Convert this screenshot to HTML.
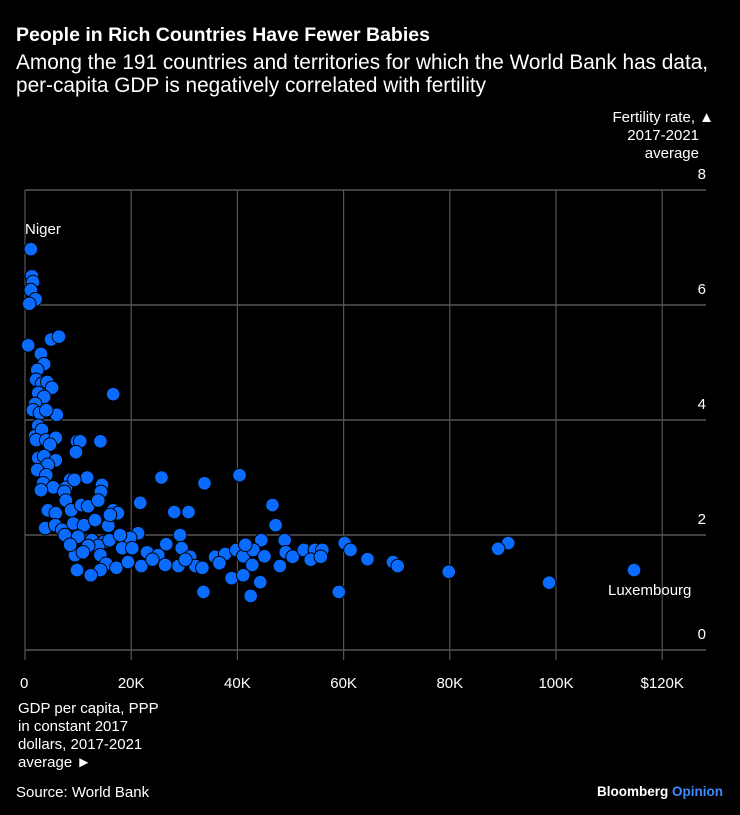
<!DOCTYPE html>
<html><head><meta charset="utf-8"><style>
body{margin:0;background:#000;width:740px;height:815px;overflow:hidden;font-family:"Liberation Sans",sans-serif;color:#fff}
</style></head><body>
<svg width="740" height="815" style="position:absolute;left:0;top:0">
<text x="16" y="41" font-size="19.5" font-weight="bold" fill="#fff">People in Rich Countries Have Fewer Babies</text>
<text x="16" y="69" font-size="20.8" fill="#fff">Among the 191 countries and territories for which the World Bank has data,</text>
<text x="16" y="92" font-size="20.8" fill="#fff">per-capita GDP is negatively correlated with fertility</text>
<g font-size="15" fill="#fff" text-anchor="end">
<text x="714" y="122">Fertility rate, ▲</text><text x="699" y="140">2017-2021</text><text x="699" y="158">average</text></g>
<g id="grid"></g><g id="dots"></g>
<text x="25" y="234" font-size="15" fill="#fff">Niger</text>
<text x="608" y="595" font-size="15" fill="#fff">Luxembourg</text>
<g font-size="15" fill="#fff">
<text x="18" y="713">GDP per capita, PPP</text><text x="18" y="731">in constant 2017</text><text x="18" y="749">dollars, 2017-2021</text><text x="18" y="767">average ►</text></g>
<text x="16" y="797" font-size="15" fill="#fff">Source: World Bank</text>
<text x="723" y="796" font-size="13.5" font-weight="bold" text-anchor="end"><tspan fill="#fff">Bloomberg </tspan><tspan fill="#3d8bff">Opinion</tspan></text>
</svg>
<script>
const xTicks=[0,20,40,60,80,100,120];
const xTickLabels=["0","20K","40K","60K","80K","100K","$120K"];
const yTicks=[0,2,4,6,8];
const gdp=[1.1,1.3,1.5,1.1,2.0,0.8,0.6,3.0,4.9,6.4,3.6,2.3,2.1,3.2,4.2,5.1,2.5,3.6,1.9,1.5,2.8,6.0,4.0,2.5,1.9,3.2,16.6,2.1,4.0,5.8,4.7,9.8,10.4,14.2,2.5,3.6,5.8,4.3,2.3,4.0,9.6,11.7,14.5,14.3,25.7,40.4,33.8,3.4,8.5,7.7,5.3,3.0,7.4,9.3,7.7,8.7,10.6,11.9,13.8,21.7,46.6,28.1,30.8,16.6,17.5,4.3,5.8,3.8,5.7,7.0,9.1,11.1,13.2,15.7,47.2,21.3,29.2,7.5,10.0,12.6,14.9,13.8,11.9,19.8,44.5,48.9,60.2,91.0,89.1,61.3,9.4,10.9,14.2,18.3,20.2,23.0,25.1,26.6,29.5,31.1,35.8,37.7,39.8,41.1,43.0,45.1,49.1,50.4,52.5,54.6,56.0,53.8,55.7,64.5,69.3,70.2,79.8,98.7,114.7,15.3,17.2,19.4,21.9,24.0,28.9,32.1,33.4,36.6,38.9,41.1,42.8,44.3,48.0,14.2,12.4,9.8,33.6,42.5,59.1,15.9,8.5,17.9,26.4,30.2,41.5,16.0];
const fert=[6.97,6.5,6.4,6.26,6.1,6.02,5.3,5.15,5.4,5.45,4.97,4.87,4.7,4.63,4.66,4.56,4.47,4.4,4.28,4.17,4.12,4.09,4.17,3.9,3.72,3.83,4.45,3.65,3.65,3.69,3.57,3.63,3.63,3.63,3.34,3.37,3.3,3.22,3.13,3.04,3.44,3.0,2.87,2.75,3.0,3.04,2.9,2.9,2.96,2.82,2.83,2.78,2.75,2.96,2.6,2.43,2.52,2.5,2.6,2.56,2.52,2.4,2.4,2.43,2.38,2.43,2.38,2.12,2.17,2.09,2.2,2.17,2.26,2.16,2.17,2.03,2.0,2.0,1.97,1.91,1.88,1.81,1.81,1.95,1.91,1.91,1.86,1.86,1.76,1.74,1.65,1.7,1.65,1.77,1.77,1.7,1.65,1.84,1.77,1.62,1.62,1.67,1.74,1.63,1.74,1.63,1.7,1.62,1.74,1.74,1.74,1.57,1.62,1.58,1.53,1.46,1.36,1.17,1.39,1.5,1.43,1.53,1.46,1.57,1.46,1.46,1.43,1.51,1.25,1.3,1.48,1.18,1.46,1.39,1.3,1.39,1.01,0.94,1.01,1.91,1.83,2.0,1.48,1.57,1.83,2.35];
const X=v=>25+v*106.2/20, Y=v=>650-v*57.5;
const NS="http://www.w3.org/2000/svg";
const grid=document.getElementById('grid'),dots=document.getElementById('dots');
function mk(tag,attrs,parent){const e=document.createElementNS(NS,tag);for(const k in attrs)e.setAttribute(k,attrs[k]);parent.appendChild(e);return e;}
yTicks.forEach(t=>{
 const l=mk('line',{x1:25,x2:706,y1:Y(t),y2:Y(t),stroke:'#555','stroke-width':1.5},grid);
 
 
 const tx=mk('text',{x:706,y:Y(t)-11,'font-size':15,fill:'#fff','text-anchor':'end'},grid);tx.textContent=t;
 
 
});
xTicks.forEach((t,i)=>{
 const l=mk('line',{x1:X(t),x2:X(t),y1:Y(8),y2:660,stroke:'#555','stroke-width':1.2},grid);
 
 
 const tx=mk('text',{x:X(t),y:688,'font-size':15,fill:'#fff','text-anchor':i==0?'start':'middle'},grid);tx.textContent=xTickLabels[i];
 if(i==0)tx.setAttribute('x',X(t)-5);
 
 
});
gdp.forEach((g,i)=>{
 const c=mk('circle',{cx:X(g),cy:Y(fert[i]),r:6.8,fill:'#0a6cff',stroke:'#000','stroke-width':1},dots);
 
 
});
</script>
</body></html>
